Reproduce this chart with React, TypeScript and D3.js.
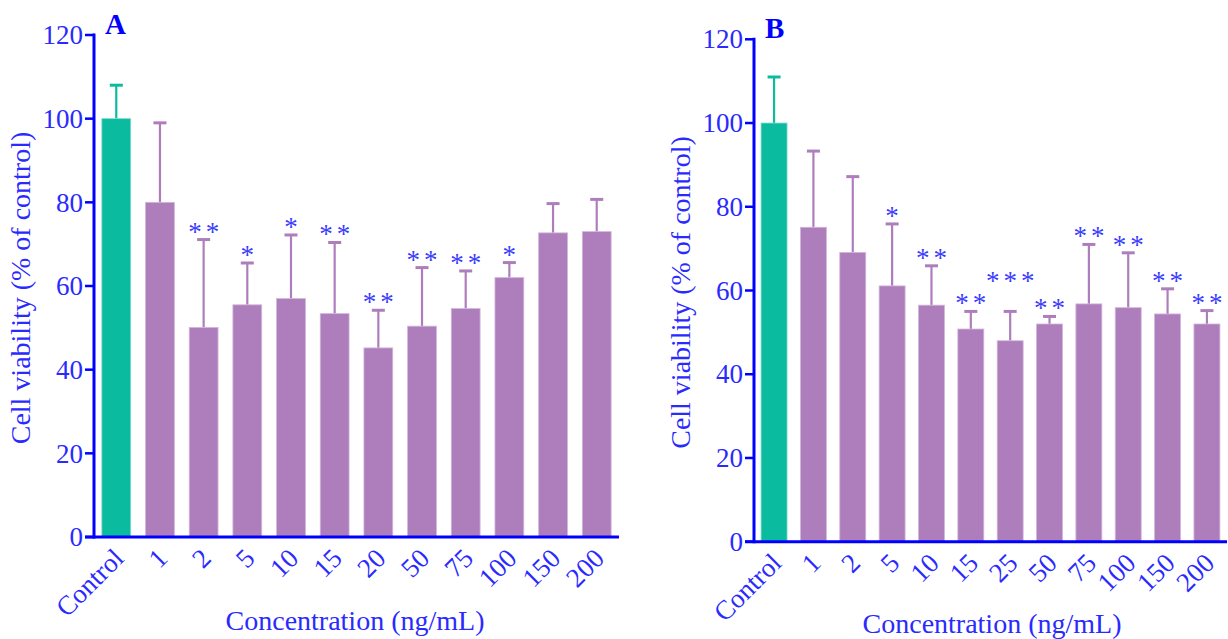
import { useEffect, useRef } from 'react';
import * as d3 from 'd3';

// Panel A
const categoriesA = ["Control", "1", "2", "5", "10", "15", "20", "50", "75", "100", "150", "200"];
const meansA = [100, 80, 50.1, 55.5, 57, 53.4, 45.2, 50.4, 54.6, 62, 72.7, 73];
const errorsA = [8, 19, 21, 10, 15.2, 17, 9, 14, 9, 3.6, 7, 7.7];
const sigA = ["", "", "**", "*", "*", "**", "**", "**", "**", "*", "", ""];

// Panel B
const categoriesB = ["Control", "1", "2", "5", "10", "15", "25", "50", "75", "100", "150", "200"];
const meansB = [100, 75.1, 69.1, 61.1, 56.5, 50.8, 48, 52, 56.8, 55.9, 54.4, 52];
const errorsB = [11, 18.2, 18.1, 14.8, 9.4, 4.2, 7, 1.8, 14.2, 13.1, 6, 3.2];
const sigB = ["", "", "", "*", "**", "**", "***", "**", "**", "**", "**", "**"];

const yTicks = [0, 20, 40, 60, 80, 100, 120];

const AXIS = "#0000ff";
const TEXT = "#2a2aff";
const CONTROL = "#0abb9f";
const TREAT = "#ae7ebc";
const FONT = "'Liberation Serif', 'Times New Roman', serif";

type PanelCfg = {
  label: string;
  cats: string[];
  means: number[];
  errs: number[];
  sig: string[];
  x0: number;
  x1: number;
  yBottom: number;
  yTop: number;
  yTitleX: number;
  xTitleX: number;
  xTitleY: number;
};

function drawPanel(svg: d3.Selection<SVGSVGElement, unknown, null, undefined>, p: PanelCfg) {
  const g = svg.append("g");

  const x = d3.scaleBand<string>()
    .domain(p.cats)
    .range([p.x0, p.x1])
    .paddingInner(0.34)
    .paddingOuter(0.18);

  const y = d3.scaleLinear().domain([0, 120]).range([p.yBottom, p.yTop]);

  const rows = p.cats.map((c, i) => ({ cat: c, mean: p.means[i], err: p.errs[i], sig: p.sig[i], i }));
  const cx = (d: { cat: string }) => x(d.cat)! + x.bandwidth() / 2;

  // error bars (upper half only, drawn under the bars)
  const eb = g.append("g").selectAll("g").data(rows).join("g");
  eb.append("line")
    .attr("x1", cx).attr("x2", cx)
    .attr("y1", d => y(d.mean))
    .attr("y2", d => y(d.mean + d.err))
    .attr("stroke", d => d.i === 0 ? CONTROL : TREAT)
    .attr("stroke-width", 2.2);
  eb.append("line")
    .attr("x1", d => cx(d) - 6.5)
    .attr("x2", d => cx(d) + 6.5)
    .attr("y1", d => y(d.mean + d.err))
    .attr("y2", d => y(d.mean + d.err))
    .attr("stroke", d => d.i === 0 ? CONTROL : TREAT)
    .attr("stroke-width", 3);

  // bars
  g.append("g").selectAll("rect").data(rows).join("rect")
    .attr("x", d => x(d.cat)!)
    .attr("width", x.bandwidth())
    .attr("y", d => y(d.mean))
    .attr("height", d => y(0) - y(d.mean))
    .attr("fill", d => d.i === 0 ? CONTROL : TREAT)
    .attr("stroke", d => d.i === 0 ? "#7fdccb" : "#d2b6db")
    .attr("stroke-width", 0.8);

  // significance stars; triple stars are lifted clear of their neighbours
  g.append("g").selectAll("text").data(rows.filter(d => d.sig)).join("text")
    .attr("x", d => cx(d) + 2)
    .attr("y", d => y(d.mean + d.err) + 1 - (d.sig.length >= 3 ? 22 : 0))
    .attr("text-anchor", "middle")
    .attr("fill", "#3b3bff")
    .style("font-family", FONT)
    .style("font-size", "27px")
    .style("letter-spacing", "4px")
    .text(d => d.sig);

  // y axis
  const yAxis = g.append("g");
  yAxis.append("line")
    .attr("x1", p.x0).attr("x2", p.x0)
    .attr("y1", y(120) - 1.5).attr("y2", y(0) + 1.5)
    .attr("stroke", AXIS).attr("stroke-width", 3);
  yAxis.selectAll("line.tick").data(yTicks).join("line")
    .attr("class", "tick")
    .attr("x1", p.x0 - 9).attr("x2", p.x0)
    .attr("y1", d => y(d)).attr("y2", d => y(d))
    .attr("stroke", AXIS).attr("stroke-width", 2.5);
  yAxis.selectAll("text").data(yTicks).join("text")
    .attr("x", p.x0 - 11)
    .attr("y", d => y(d))
    .attr("dy", "0.34em")
    .attr("text-anchor", "end")
    .attr("fill", TEXT)
    .style("font-family", FONT)
    .style("font-size", "27px")
    .text(d => d);

  // x axis
  const xAxis = g.append("g");
  xAxis.append("line")
    .attr("x1", p.x0 - 9).attr("x2", p.x1)
    .attr("y1", y(0)).attr("y2", y(0))
    .attr("stroke", AXIS).attr("stroke-width", 3);
  xAxis.selectAll("text").data(p.cats).join("text")
    .attr("transform", d => `translate(${x(d)! + x.bandwidth() / 2 + 9},${y(0) + 23}) rotate(-45)`)
    .attr("text-anchor", "end")
    .attr("fill", TEXT)
    .style("font-family", FONT)
    .style("font-size", "27px")
    .text(d => d);

  // titles
  g.append("text")
    .attr("transform", `translate(${p.yTitleX},${(y(0) + y(120)) / 2 + 2}) rotate(-90)`)
    .attr("text-anchor", "middle")
    .attr("fill", TEXT)
    .style("font-family", FONT)
    .style("font-size", "28px")
    .text("Cell viability (% of control)");

  g.append("text")
    .attr("x", p.xTitleX)
    .attr("y", p.xTitleY)
    .attr("text-anchor", "middle")
    .attr("fill", TEXT)
    .style("font-family", FONT)
    .style("font-size", "28px")
    .text("Concentration (ng/mL)");

  g.append("text")
    .attr("x", p.x0 + 11)
    .attr("y", y(120) - 1)
    .attr("fill", AXIS)
    .style("font-family", FONT)
    .style("font-size", "29px")
    .style("font-weight", "bold")
    .text(p.label);
}

export default function App() {
  const svgRef = useRef<SVGSVGElement>(null);

  useEffect(() => {
    if (!svgRef.current) return;
    const svg = d3.select(svgRef.current);
    svg.selectAll("*").remove();

    drawPanel(svg, {
      label: "A", cats: categoriesA, means: meansA, errs: errorsA, sig: sigA,
      x0: 94, x1: 619, yBottom: 537, yTop: 35,
      yTitleX: 30, xTitleX: 355, xTitleY: 630,
    });
    drawPanel(svg, {
      label: "B", cats: categoriesB, means: meansB, errs: errorsB, sig: sigB,
      x0: 754, x1: 1227, yBottom: 541.7, yTop: 39.3,
      yTitleX: 690, xTitleX: 992, xTitleY: 633,
    });
  }, []);

  return (
    <svg
      ref={svgRef}
      width={1228}
      height={639}
      style={{ position: "absolute", left: 0, top: 0, background: "#fff", display: "block" }}
    />
  );
}
